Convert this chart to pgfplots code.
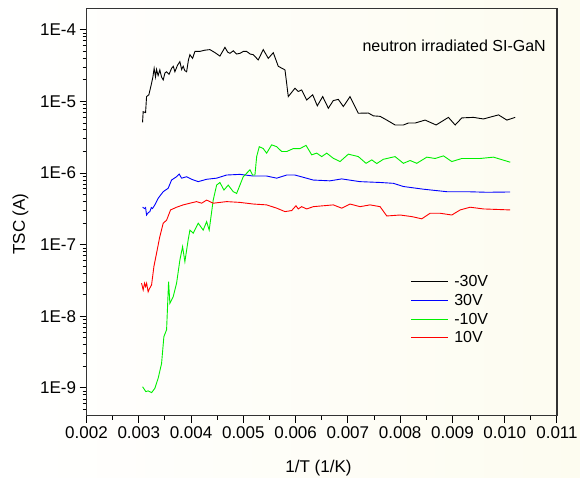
\documentclass[border=0pt]{standalone}
\usepackage{fontspec}
\setmainfont{Liberation Sans}
\usepackage{pgfplots}
\pgfplotsset{compat=1.18}
\definecolor{cream}{RGB}{253,252,240}
\definecolor{pgreen}{RGB}{0,240,0}
\definecolor{pblue}{RGB}{0,0,255}
\definecolor{pred}{RGB}{255,0,0}
\begin{document}
\begin{tikzpicture}
\useasboundingbox (0,0) rectangle (580pt,478pt);
\shade[left color=white, right color=cream] (0,0) rectangle (580pt,478pt);
\begin{axis}[
  at={(86.5pt,62.3pt)}, anchor=south west,
  scale only axis, width=470.5pt, height=407.4pt,
  ymode=log, xmin=0.002, xmax=0.011, ymin=4.1e-10, ymax=2e-4,
  scaled x ticks=false,
  axis line style={line width=1.1pt, black!80},
  tick align=outside, xtick pos=bottom, ytick pos=left,
  xtick={0.002,0.003,0.004,0.005,0.006,0.007,0.008,0.009,0.010,0.011},
  xticklabels={0.002,0.003,0.004,0.005,0.006,0.007,0.008,0.009,0.010,0.011},
  minor xtick={0.0025,0.0035,0.0045,0.0055,0.0065,0.0075,0.0085,0.0095,0.0105},
  ytick={1e-9,1e-8,1e-7,1e-6,1e-5,1e-4},
  yticklabels={1E-9,1E-8,1E-7,1E-6,1E-5,1E-4},
  minor ytick={5e-10,6e-10,7e-10,8e-10,9e-10,
    2e-9,3e-9,4e-9,5e-9,6e-9,7e-9,8e-9,9e-9,
    2e-8,3e-8,4e-8,5e-8,6e-8,7e-8,8e-8,9e-8,
    2e-7,3e-7,4e-7,5e-7,6e-7,7e-7,8e-7,9e-7,
    2e-6,3e-6,4e-6,5e-6,6e-6,7e-6,8e-6,9e-6,
    2e-5,3e-5,4e-5,5e-5,6e-5,7e-5,8e-5,9e-5},
  major tick length=7pt, minor tick length=4pt,
  every tick/.style={line width=1pt, black},
  ticklabel style={font=\fontsize{17}{20}\selectfont},
  xlabel={1/T (1/K)}, ylabel={TSC (A)},
  label style={font=\fontsize{17}{20}\selectfont},
  xlabel style={at={(axis description cs:0.493,-0.1389)}, anchor=base},
  ylabel style={at={(axis description cs:-0.131,0.4705)}, anchor=base, rotate=0},
  legend style={at={(axis description cs:0.688,0.3495)}, anchor=north west,
    draw=none, fill=none, inner sep=0pt, row sep=2pt,
    font=\fontsize{16}{18}\selectfont,
    /tikz/every odd column/.append style={column sep=4pt}},
  legend cell align=left,
  legend image code/.code={\draw[#1, line width=1.2pt] (0pt,0pt) -- (36.7pt,0pt);},
  every axis plot/.append style={line width=0.9pt},
]
\addplot[black] coordinates {
(0.003072,5.1e-6) (0.003084,7.2e-6) (0.003130,7.0e-6) (0.003149,1.17e-5)
(0.003193,1.24e-5) (0.003245,1.8e-5) (0.003270,2.2e-5) (0.003294,2.9e-5)
(0.003320,2.2e-5) (0.003340,2.8e-5) (0.003370,2.3e-5) (0.003403,2.76e-5)
(0.003435,2.2e-5) (0.003467,2.0e-5) (0.003500,2.5e-5) (0.003532,2.6e-5)
(0.003580,2.4e-5) (0.003627,2.9e-5) (0.003660,3.1e-5) (0.003691,2.6e-5)
(0.003740,3.2e-5) (0.003786,3.6e-5) (0.003820,2.8e-5) (0.003850,3.1e-5)
(0.003880,2.7e-5) (0.003915,2.6e-5) (0.003950,3.8e-5) (0.003978,4.5e-5)
(0.004029,4.0e-5) (0.004074,5.0e-5) (0.004169,5.0e-5) (0.004260,5.2e-5)
(0.004361,5.3e-5) (0.004460,4.8e-5) (0.004552,4.3e-5) (0.004648,5.7e-5)
(0.004700,4.9e-5) (0.004744,4.7e-5) (0.004807,5.1e-5) (0.004870,4.6e-5)
(0.004935,4.7e-5) (0.005000,5.0e-5) (0.005063,5.0e-5) (0.005130,4.6e-5)
(0.005190,4.5e-5) (0.005285,3.8e-5) (0.005381,5.3e-5) (0.005477,4.0e-5)
(0.005573,4.8e-5) (0.005668,3.1e-5) (0.005797,2.76e-5) (0.005860,1.17e-5)
(0.005987,1.53e-5) (0.006051,1.38e-5) (0.006116,1.45e-5) (0.006212,1.05e-5)
(0.006327,1.24e-5) (0.006415,8.7e-6) (0.006518,1.17e-5) (0.006626,8.05e-6)
(0.006721,1.03e-5) (0.006817,1.07e-5) (0.006913,8.5e-6) (0.007041,1.17e-5)
(0.007200,6.85e-6) (0.007392,6.9e-6) (0.007487,6.3e-6) (0.007616,6.2e-6)
(0.007744,5.5e-6) (0.007903,4.7e-6) (0.008062,4.7e-6) (0.008157,5.0e-6)
(0.008286,5.0e-6) (0.008477,5.5e-6) (0.008688,4.7e-6) (0.008923,6.0e-6)
(0.009052,4.7e-6) (0.009180,5.9e-6) (0.009402,6.0e-6) (0.009593,5.7e-6)
(0.009881,6.5e-6) (0.010041,5.5e-6) (0.010200,6.0e-6)
};
\addplot[pblue] coordinates {
(0.003072,3.34e-7) (0.003110,3.2e-7) (0.003130,3.3e-7) (0.003149,2.6e-7)
(0.003180,2.8e-7) (0.003212,2.9e-7) (0.003240,3.3e-7) (0.003263,3.2e-7)
(0.003307,3.6e-7) (0.003371,4.45e-7) (0.003467,5.5e-7) (0.003563,6.15e-7)
(0.003627,8.0e-7) (0.003723,8.9e-7) (0.003773,9.7e-7) (0.003819,8.5e-7)
(0.003915,8.9e-7) (0.004010,8.2e-7) (0.004137,7.6e-7) (0.004297,8.2e-7)
(0.004489,8.5e-7) (0.004680,9.4e-7) (0.004935,9.6e-7) (0.005190,9.1e-7)
(0.005447,9.1e-7) (0.005638,8.5e-7) (0.005830,9.4e-7) (0.005987,9.4e-7)
(0.006338,8.0e-7) (0.006657,7.8e-7) (0.006882,8.3e-7) (0.007231,7.6e-7)
(0.007616,7.4e-7) (0.007871,7.2e-7) (0.008062,6.5e-7) (0.008445,5.96e-7)
(0.008894,5.5e-7) (0.009276,5.5e-7) (0.009659,5.4e-7) (0.010105,5.45e-7)
};
\addplot[pgreen] coordinates {
(0.003072,1.04e-9) (0.003135,8.9e-10) (0.003179,9.1e-10) (0.003245,8.6e-10)
(0.003308,9.9e-10) (0.003371,1.37e-9) (0.003436,2.2e-9) (0.003480,5.2e-9)
(0.003532,6.5e-9) (0.003570,3.05e-8) (0.003595,1.52e-8) (0.003658,1.88e-8)
(0.003723,2.9e-8) (0.003786,6.1e-8) (0.003838,9.4e-8) (0.003882,5.8e-8)
(0.003945,1.17e-7) (0.003978,1.6e-7) (0.004041,1.45e-7) (0.004137,2.0e-7)
(0.004232,1.6e-7) (0.004298,2.1e-7) (0.004347,1.6e-7) (0.004424,4.2e-7)
(0.004489,6.8e-7) (0.004552,7.4e-7) (0.004629,5.8e-7) (0.004711,6.8e-7)
(0.004807,5.5e-7) (0.004872,5.2e-7) (0.004935,6.8e-7) (0.004998,8.9e-7)
(0.005063,9.95e-7) (0.005127,1.11e-6) (0.005178,9.4e-7) (0.005222,9.4e-7)
(0.005255,1.7e-6) (0.005305,2.34e-6) (0.005381,2.2e-6) (0.005446,1.9e-6)
(0.005542,2.48e-6) (0.005638,2.34e-6) (0.005734,2.0e-6) (0.005829,2.0e-6)
(0.005956,2.2e-6) (0.006084,2.2e-6) (0.006199,2.44e-6) (0.006308,1.8e-6)
(0.006404,1.9e-6) (0.006499,1.7e-6) (0.006595,1.9e-6) (0.006721,1.61e-6)
(0.006850,1.45e-6) (0.007009,1.84e-6) (0.007200,1.7e-6) (0.007347,1.37e-6)
(0.007457,1.53e-6) (0.007552,1.36e-6) (0.007679,1.56e-6) (0.007903,1.7e-6)
(0.008062,1.37e-6) (0.008190,1.5e-6) (0.008318,1.37e-6) (0.008510,1.67e-6)
(0.008669,1.6e-6) (0.008828,1.74e-6) (0.008988,1.45e-6) (0.009180,1.6e-6)
(0.009530,1.6e-6) (0.009785,1.67e-6) (0.010105,1.42e-6)
};
\addplot[pred] coordinates {
(0.003053,2.9e-8) (0.003084,2.34e-8) (0.003110,2.9e-8) (0.003130,2.6e-8)
(0.003150,2.9e-8) (0.003179,2.2e-8) (0.003200,2.4e-8) (0.003245,2.75e-8)
(0.003289,4.95e-8) (0.003340,7.6e-8) (0.003390,1.17e-7) (0.003403,1.3e-7)
(0.003467,2.0e-7) (0.003532,2.2e-7) (0.003608,3.06e-7) (0.003723,3.34e-7)
(0.003850,3.6e-7) (0.003978,3.8e-7) (0.004106,4.0e-7) (0.004202,3.8e-7)
(0.004298,4.2e-7) (0.004424,3.8e-7) (0.004680,4.0e-7) (0.004935,3.9e-7)
(0.005190,3.7e-7) (0.005446,3.6e-7) (0.005638,3.24e-7) (0.005797,2.9e-7)
(0.005925,3.0e-7) (0.006007,3.5e-7) (0.006051,3.16e-7) (0.006116,3.4e-7)
(0.006212,3.16e-7) (0.006338,3.4e-7) (0.006530,3.5e-7) (0.006721,3.6e-7)
(0.006882,3.24e-7) (0.007041,3.7e-7) (0.007233,3.4e-7) (0.007424,3.6e-7)
(0.007616,3.4e-7) (0.007744,2.52e-7) (0.007999,2.6e-7) (0.008222,2.47e-7)
(0.008414,2.3e-7) (0.008573,2.75e-7) (0.008764,2.75e-7) (0.008988,2.6e-7)
(0.009147,3.06e-7) (0.009338,3.34e-7) (0.009593,3.16e-7) (0.010105,3.06e-7)
};
\legend{-30V,30V,-10V,10V}
\node[anchor=base east, font=\fontsize{16}{18}\selectfont, inner sep=0pt]
  at (axis description cs:0.9766,0.8935) {neutron irradiated SI-GaN};
\end{axis}
\end{tikzpicture}
\end{document}
